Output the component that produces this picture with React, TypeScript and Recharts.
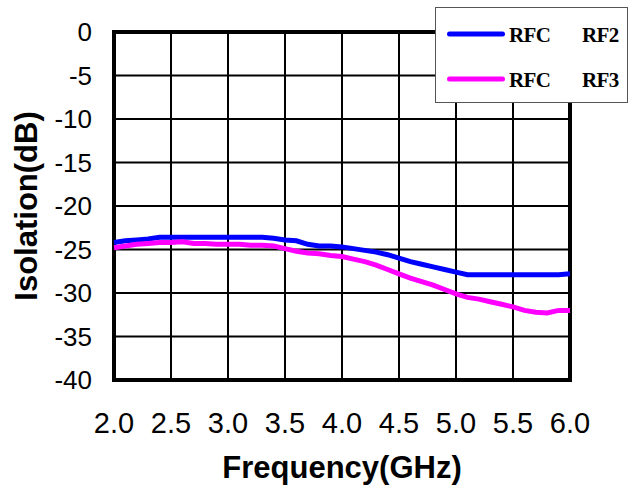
import React from "react";
import {
  CartesianGrid,
  Legend,
  Line,
  LineChart,
  ReferenceArea,
  XAxis,
  YAxis,
} from "recharts";

// Isolation vs frequency, two paths, Excel-style boxed grid.
const freqs = [
  2.0, 2.1, 2.2, 2.3, 2.4, 2.5, 2.6, 2.7, 2.8, 2.9, 3.0, 3.1, 3.2, 3.3, 3.4,
  3.5, 3.6, 3.7, 3.8, 3.9, 4.0, 4.1, 4.2, 4.3, 4.4, 4.5, 4.6, 4.7, 4.8, 4.9,
  5.0, 5.1, 5.2, 5.3, 5.4, 5.5, 5.6, 5.7, 5.8, 5.9, 6.0,
];
const rf2 = [
  -24.2, -24.0, -23.9, -23.8, -23.6, -23.6, -23.6, -23.6, -23.6, -23.6, -23.6,
  -23.6, -23.6, -23.6, -23.7, -23.9, -24.0, -24.4, -24.6, -24.6, -24.7, -24.9,
  -25.1, -25.3, -25.6, -26.0, -26.4, -26.7, -27.0, -27.3, -27.6, -27.9, -27.9,
  -27.9, -27.9, -27.9, -27.9, -27.9, -27.9, -27.9, -27.8,
];
const rf3 = [
  -24.8, -24.6, -24.4, -24.3, -24.2, -24.2, -24.1, -24.3, -24.3, -24.4, -24.4,
  -24.4, -24.5, -24.5, -24.6, -24.9, -25.2, -25.4, -25.5, -25.7, -25.8, -26.1,
  -26.4, -26.8, -27.3, -27.8, -28.3, -28.7, -29.1, -29.6, -30.1, -30.5, -30.7,
  -31.0, -31.3, -31.6, -32.0, -32.2, -32.3, -32.0, -32.0,
];
const xTicks = [2.0, 2.5, 3.0, 3.5, 4.0, 4.5, 5.0, 5.5, 6.0];
const yTicks = [0, -5, -10, -15, -20, -25, -30, -35, -40];

const data = freqs.map((f, i) => ({ f, rf2: rf2[i], rf3: rf3[i] }));

const sans = "'Liberation Sans', Arial, sans-serif";

function YTitle({ viewBox }: any) {
  const x = (viewBox?.x ?? 0) + 37;
  const y = (viewBox?.y ?? 0) + (viewBox?.height ?? 0) / 2;
  return (
    <text
      x={x}
      y={y}
      transform={`rotate(-90 ${x} ${y})`}
      textAnchor="middle"
      fontFamily={sans}
      fontWeight="bold"
      fontSize={31}
      fill="#000"
    >
      Isolation(dB)
    </text>
  );
}

function LegendBox({ payload }: any) {
  return (
    <div
      style={{
        position: "relative",
        width: "100%",
        height: "100%",
        boxSizing: "border-box",
        background: "#fff",
        border: "1px solid #555",
        fontFamily: "'Liberation Serif', 'Times New Roman', serif",
        fontWeight: "bold",
        fontSize: 21,
        letterSpacing: -0.6,
        color: "#000",
      }}
    >
      {(payload || []).map((p: any, i: number) => {
        const [a, b] = String(p.value).split(" ");
        return (
          <div
            key={i}
            style={{
              position: "absolute",
              left: 0,
              top: 13 + i * 45,
              height: 26,
              width: "100%",
            }}
          >
            <svg
              width={62}
              height={26}
              style={{ position: "absolute", left: 9, top: 0 }}
            >
              <line
                x1={4.5}
                x2={57.5}
                y1={13}
                y2={13}
                stroke={p.color}
                strokeWidth={5}
                strokeLinecap="round"
              />
            </svg>
            <span style={{ position: "absolute", left: 73, top: 1, lineHeight: "26px" }}>
              {a}
            </span>
            <span style={{ position: "absolute", left: 146, top: 1, lineHeight: "26px" }}>
              {b}
            </span>
          </div>
        );
      })}
    </div>
  );
}

export default function App() {
  return (
    <div style={{ position: "absolute", left: 0, top: 0, background: "#fff" }}>
      <LineChart
        width={632}
        height={487}
        data={data}
        margin={{ top: 32, right: 62, bottom: 0, left: 0 }}
      >
        <CartesianGrid stroke="#000" strokeWidth={2} />
        <XAxis
          type="number"
          dataKey="f"
          domain={[2, 6]}
          ticks={xTicks}
          tickFormatter={(v) => Number(v).toFixed(1)}
          height={107}
          axisLine={false}
          tickLine={false}
          tickSize={0}
          tickMargin={32}
          tick={{
            fill: "#000",
            fontSize: 29,
            fontFamily: "'Liberation Sans Narrow', 'Arial Narrow', " + sans,
          }}
          label={{
            value: "Frequency(GHz)",
            position: "insideBottom",
            offset: 9,
            fill: "#000",
            fontSize: 31,
            fontWeight: "bold",
            fontFamily: sans,
          }}
        />
        <YAxis
          type="number"
          domain={[-40, 0]}
          ticks={yTicks}
          width={114}
          axisLine={false}
          tickLine={false}
          tickSize={0}
          tickMargin={22}
          tick={{ fill: "#000", fontSize: 26, fontFamily: sans }}
          label={<YTitle />}
        />
        <ReferenceArea
          x1={2}
          x2={6}
          y1={-40}
          y2={0}
          fill="none"
          fillOpacity={0}
          stroke="#000"
          strokeWidth={4}
        />
        <Line
          dataKey="rf2"
          name="RFC RF2"
          type="linear"
          stroke="#0000ff"
          strokeWidth={5}
          dot={false}
          isAnimationActive={false}
        />
        <Line
          dataKey="rf3"
          name="RFC RF3"
          type="linear"
          stroke="#ff00ff"
          strokeWidth={5}
          dot={false}
          isAnimationActive={false}
        />
        <Legend
          layout="horizontal"
          verticalAlign="middle"
          align="center"
          content={<LegendBox />}
          wrapperStyle={{
            position: "absolute",
            left: 435,
            top: 7,
            width: 193,
            height: 96,
            margin: 0,
          }}
        />
      </LineChart>
    </div>
  );
}
